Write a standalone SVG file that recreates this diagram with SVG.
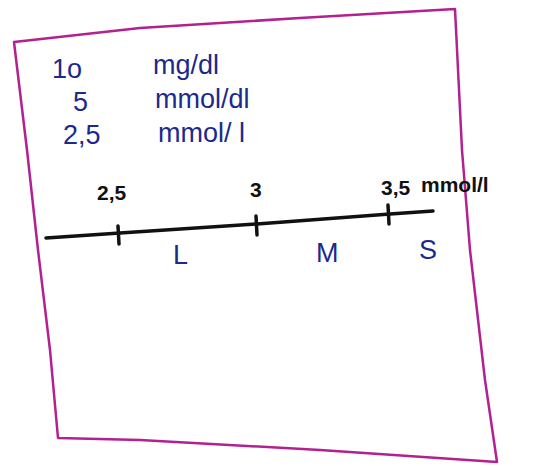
<svg xmlns="http://www.w3.org/2000/svg" width="543" height="466" viewBox="0 0 543 466">
<style>
.frame{fill:none;stroke:#b3208f;stroke-width:2.5;stroke-linejoin:round}
.ink{font-family:"Liberation Sans",Arial,sans-serif;fill:#1b2a8c;font-size:27px}
.blk{font-family:"Liberation Sans",Arial,sans-serif;fill:#111;font-size:21px;font-weight:bold}
.axis{fill:none;stroke:#111;stroke-width:3.5;stroke-linecap:round}
</style>
<rect width="543" height="466" fill="#fff"/>
<g id="frame">
<path class="frame" d="M14,42 L140,28 L300,18 L455,9 L462,150 L470,250 L485,380 L497,462 L320,450 L140,440 L58,438 L50,350 L38,250 L27,150 Z"/>
</g>
<g id="units">
<text class="ink" x="52" y="78">1o</text>
<text class="ink" x="153" y="74">mg/dl</text>
<text class="ink" x="73" y="111">5</text>
<text class="ink" x="155" y="108">mmol/dl</text>
<text class="ink" x="63" y="144">2,5</text>
<text class="ink" x="158" y="142">mmol/ l</text>
</g>
<g id="connectors">
<path class="axis" d="M46,238 L120,233 L257,224 L390,214 L433,211"/>
<path class="axis" d="M118,226 L119,244"/>
<path class="axis" d="M256,216 L257,235"/>
<path class="axis" d="M388,205 L389,224"/>
</g>
<g id="labels">
<text class="blk" x="97" y="200">2,5</text>
<text class="blk" x="250" y="197">3</text>
<text class="blk" x="381" y="195">3,5</text>
<text class="blk" x="421" y="192" font-size="19">mmol/l</text>
</g>
<g id="classes">
<text class="ink" x="173" y="264">L</text>
<text class="ink" x="316" y="262">M</text>
<text class="ink" x="419" y="259">S</text>
</g>
</svg>
